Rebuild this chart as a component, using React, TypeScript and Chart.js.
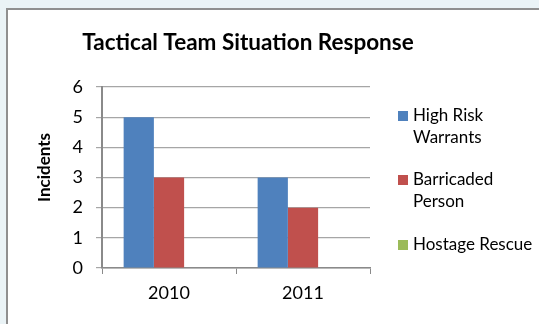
import React, { useEffect, useRef } from "react";
import { Chart, registerables } from "chart.js";

Chart.register(...registerables);

const categories = ["2010", "2011"];
const seriesNames = ["High Risk Warrants", "Barricaded Person", "Hostage Rescue"];
const legendLines = [["High Risk", "Warrants"], ["Barricaded", "Person"], ["Hostage Rescue"]];
const highRiskWarrants = [5, 3];
const barricadedPerson = [3, 2];
const hostageRescue = [0, 0];
const seriesColors = ["#4F81BD", "#C0504D", "#9BBB59"];
const chartTitle = "Tactical Team Situation Response";
const yAxisTitle = "Incidents";

const FONT = "Lato, 'Open Sans', sans-serif";

const decorPlugin = {
  id: "decor",
  afterDraw(chart: any) {
    const ctx = chart.ctx;
    const area = chart.chartArea;
    ctx.save();
    ctx.fillStyle = "#000";
    // title
    ctx.font = `bold 22.5px ${FONT}`;
    ctx.textAlign = "center";
    ctx.textBaseline = "alphabetic";
    ctx.fillText(chartTitle, 248, 50);
    // y-axis title
    ctx.save();
    ctx.translate(50, (area.top + area.bottom) / 2 - 10);
    ctx.rotate(-Math.PI / 2);
    ctx.font = `bold 17px ${FONT}`;
    ctx.textAlign = "center";
    ctx.fillText(yAxisTitle, 0, 0);
    ctx.restore();
    // legend
    const lx = area.right + 28;
    const firstBaselines = [121, 185, 250];
    ctx.font = `17px ${FONT}`;
    ctx.textAlign = "left";
    chart.data.datasets.forEach((ds: any, i: number) => {
      const b = firstBaselines[i];
      ctx.fillStyle = ds.backgroundColor;
      ctx.fillRect(lx, b - 10, 10, 10);
      ctx.fillStyle = "#000";
      legendLines[i].forEach((line, j) => {
        ctx.fillText(line, lx + 15, b + j * 22);
      });
    });
    ctx.restore();
  },
};

export default function App() {
  const ref = useRef<HTMLCanvasElement | null>(null);
  useEffect(() => {
    const values = [highRiskWarrants, barricadedPerson, hostageRescue];
    const chart = new Chart(ref.current as HTMLCanvasElement, {
      type: "bar",
      data: {
        labels: categories,
        datasets: seriesNames.map((name, i) => ({
          label: name,
          data: values[i],
          backgroundColor: seriesColors[i],
          borderWidth: 0,
          barPercentage: 1,
          categoryPercentage: 0.677,
        })),
      },
      options: {
        animation: false,
        responsive: false,
        maintainAspectRatio: false,
        layout: { padding: { left: 0, top: 87, right: 169, bottom: 0 } },
        plugins: {
          legend: { display: false },
          title: { display: false },
          tooltip: { enabled: false },
        },
        scales: {
          x: {
            offset: true,
            grid: {
              display: true,
              drawOnChartArea: false,
              drawTicks: true,
              tickLength: 6,
              color: "#8a8a8a",
              offset: true,
            },
            border: { color: "#8a8a8a", width: 1.5 },
            ticks: { color: "#000", font: { family: FONT, size: 18 }, padding: 8 },
            afterFit: (s: any) => {
              s.height = 56;
            },
          },
          y: {
            min: 0,
            max: 6,
            ticks: { stepSize: 1, color: "#000", font: { family: FONT, size: 18 }, padding: 13 },
            grid: { color: "#a6a6a6", tickLength: 6, lineWidth: 1.2 },
            border: { color: "#8a8a8a", width: 2 },
            afterFit: (s: any) => {
              s.width = 102;
            },
          },
        },
      },
      plugins: [decorPlugin],
    } as any);
    return () => chart.destroy();
  }, []);

  return (
    <div style={{ position: "fixed", left: 0, top: 0, width: 539, height: 324, background: "#EAF3F6", overflow: "hidden" }}>
      <div
        style={{
          position: "absolute",
          left: 6,
          top: 8,
          width: 600,
          height: 400,
          background: "#fff",
          borderLeft: "2px solid #8f8f8f",
          borderTop: "2px solid #8f8f8f",
        }}
      />
      <canvas ref={ref} width={539} height={324} style={{ position: "absolute", left: 0, top: 0, width: 539, height: 324 }} />
    </div>
  );
}
